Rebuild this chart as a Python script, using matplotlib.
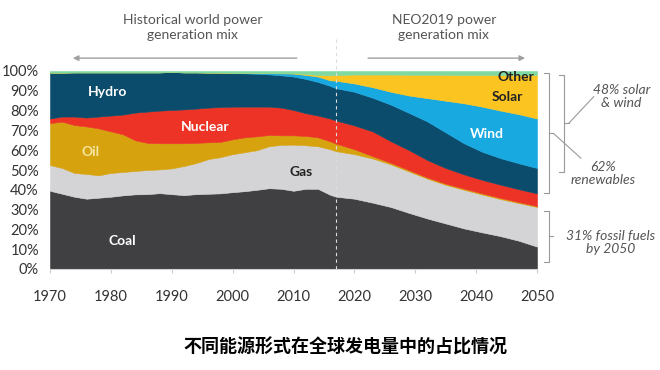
import numpy as np
import matplotlib.pyplot as plt

plt.rcParams['font.family'] = ['Lato', 'DejaVu Sans']

# share of world power generation (%)
years = [1970, 1972, 1974, 1976, 1978, 1980, 1982, 1984, 1986, 1988, 1990, 1992,
         1994, 1996, 1998, 2000, 2002, 2004, 2006, 2008, 2010, 2012, 2014, 2016,
         2017, 2020, 2023, 2026, 2029, 2032, 2035, 2038, 2041, 2044, 2047, 2050]
coal = [39.5, 38.0, 36.5, 35.5, 36.0, 36.5, 37.2, 37.7, 37.8, 38.3, 37.8, 37.3,
        37.8, 38.0, 38.2, 38.8, 39.3, 40.0, 40.8, 40.5, 39.5, 40.5, 40.5, 37.5,
        36.5, 35.5, 33.5, 31.3, 28.3, 25.5, 23.0, 20.5, 18.5, 16.6, 14.3, 11.3]
gas = [13.0, 13.0, 12.0, 12.5, 11.3, 12.0, 11.8, 11.8, 12.2, 12.0, 13.0, 14.7,
       15.7, 17.5, 18.3, 19.2, 19.7, 20.0, 21.2, 22.2, 23.3, 22.0, 21.5, 23.0,
       23.0, 22.5, 22.3, 21.5, 20.9, 20.1, 19.5, 19.5, 19.1, 18.7, 19.0, 20.0]
oil = [21.2, 23.4, 24.2, 24.0, 23.7, 21.0, 19.0, 15.5, 13.7, 13.2, 12.7, 11.5,
       10.2, 8.5, 7.7, 7.5, 7.5, 7.0, 5.7, 4.8, 4.7, 4.7, 4.5, 4.0,
       3.8, 2.5, 1.2, 0.8, 0.7, 0.6, 0.6, 0.6, 0.6, 0.6, 0.5, 0.5]
nuclear = [2.3, 2.6, 4.3, 4.5, 6.0, 8.0, 10.0, 14.0, 15.8, 16.5, 16.8, 17.1,
           17.3, 17.5, 17.6, 16.5, 15.5, 15.0, 14.3, 14.0, 12.8, 11.5, 11.0, 11.5,
           11.7, 12.0, 12.5, 10.9, 10.1, 8.8, 7.9, 7.2, 6.8, 6.7, 6.5, 6.4]
hydro = [23.2, 22.2, 22.3, 22.8, 22.3, 21.8, 21.3, 20.3, 19.8, 19.3, 19.2, 18.7,
         18.3, 17.7, 17.4, 16.9, 16.8, 16.6, 16.3, 16.3, 16.9, 17.3, 17.0, 16.5,
         16.3, 17.0, 17.0, 18.5, 18.8, 19.5, 18.0, 15.7, 14.2, 13.4, 13.1, 12.8]
wind = [0, 0, 0, 0, 0, 0, 0, 0, 0, 0, 0, 0,
        0, 0, 0, 0.1, 0.2, 0.4, 0.6, 1.0, 1.5, 2.0, 2.7, 2.8,
        3.8, 4.2, 5.3, 6.5, 8.8, 11.8, 16.0, 20.2, 22.8, 24.0, 24.8, 25.0]
solar = [0, 0, 0, 0, 0, 0, 0, 0, 0, 0, 0, 0,
         0, 0, 0, 0, 0, 0, 0.1, 0.1, 0.2, 0.5, 0.8, 2.5,
         2.9, 4.5, 6.4, 8.7, 10.5, 11.8, 13.1, 14.3, 16.0, 18.0, 19.8, 22.0]
other = [0.8, 0.8, 0.7, 0.7, 0.7, 0.7, 0.7, 0.7, 0.7, 0.7, 0.5, 0.7,
         0.7, 0.8, 0.8, 1.0, 1.0, 1.0, 1.0, 1.1, 1.1, 1.5, 2.0, 2.2,
         2.0, 1.8, 1.8, 1.8, 1.9, 1.9, 1.9, 2.0, 2.0, 2.0, 2.0, 2.0]

colors = ['#404042', '#d4d4d6', '#d6a30f', '#ec3326', '#0b4c6c',
          '#19a9e1', '#fcc420', '#7fd9a0']
xticks = [1970, 1980, 1990, 2000, 2010, 2020, 2030, 2040, 2050]

fig = plt.figure(figsize=(6.6, 3.7), dpi=100)
ax = fig.add_axes([50 / 660, 101 / 370, 487 / 660, 198 / 370])

polys = ax.stackplot(years, coal, gas, oil, nuclear, hydro, wind, solar, other,
                     colors=colors)
for p, c in zip(polys, colors):
    p.set_edgecolor(c)
    p.set_linewidth(0.4)

ax.set_xlim(1970, 2050)
ax.set_ylim(0, 100)
ax.set_xticks(xticks)
ax.set_yticks(range(0, 101, 10))
ax.set_yticklabels([f'{v}%' for v in range(0, 101, 10)])
ax.tick_params(axis='x', colors='#cccccc', labelcolor='#333333', length=3,
               pad=12, labelsize=10.5)
ax.tick_params(axis='y', length=0, pad=8, labelcolor='#333333', labelsize=10.5)
for s in ['top', 'right', 'left']:
    ax.spines[s].set_visible(False)
ax.spines['bottom'].set_color('#d0d0d0')

# today / forecast divider
ax.plot([2017, 2017], [0, 117], ls=(0, (3, 3)), lw=0.8, color='#dcdcdc',
        clip_on=False, zorder=5)

# labels inside the areas
lab = dict(ha='center', va='center', fontsize=10, fontweight='bold')
ax.text(1979.5, 89.4, 'Hydro', color='white', **lab)
ax.text(1995.5, 71.7, 'Nuclear', color='white', **lab)
ax.text(1976.7, 59.1, 'Oil', color='#f7e6a0', **lab)
ax.text(2011.3, 49, 'Gas', color='#222222', **lab)
ax.text(1981.8, 14.1, 'Coal', color='white', **lab)
ax.text(2046.6, 97, 'Other', color='#222222', **lab)
ax.text(2045.2, 86.9, 'Solar', color='#222222', **lab)
ax.text(2041.7, 68.2, 'Wind', color='white', **lab)

# headers with arrows
ax.text(1993.4, 122, 'Historical world power\ngeneration mix', ha='center',
        va='center', fontsize=10, color='#555555', linespacing=1.3)
ax.text(2034.7, 122, 'NEO2019 power\ngeneration mix', ha='center',
        va='center', fontsize=10, color='#555555', linespacing=1.3)
ax.annotate('', xy=(1973.3, 106.5), xytext=(2011, 106.5),
            arrowprops=dict(arrowstyle='-|>', color='#a0a0a0', lw=1,
                            mutation_scale=8), annotation_clip=False)
ax.annotate('', xy=(2048.5, 106.5), xytext=(2021.8, 106.5),
            arrowprops=dict(arrowstyle='-|>', color='#a0a0a0', lw=1,
                            mutation_scale=8), annotation_clip=False)

# brackets on the right
def bracket(x, y0, y1, w=0.8):
    ym = (y0 + y1) / 2
    ax.plot([x - w, x, x, x - w], [y0, y0, y1, y1], color='#999999', lw=0.8,
            clip_on=False)
    ax.plot([x, x + w], [ym, ym], color='#999999', lw=0.8, clip_on=False)
    return ym

m1 = bracket(2051.9, 98.8, 38.2)
m2 = bracket(2054.4, 98.0, 49.1)
bracket(2051.9, 29.5, 3.5)
ax.plot([2052.7, 2057.2], [m1, 56], color='#999999', lw=0.8, clip_on=False)
ax.plot([2055.2, 2059.3], [m2, 87], color='#999999', lw=0.8, clip_on=False)

note = dict(ha='center', va='center', fontsize=10, color='#555555',
            style='italic', linespacing=1.1)
ax.text(2063.9, 86.9, '48% solar\n& wind', **note)
ax.text(2060.8, 48.2, '62%\nrenewables', **note)
ax.text(2062.1, 13.6, '31% fossil fuels\nby 2050', **note)

fig.text(0.523, 0.062, '不同能源形式在全球发电量中的占比情况', ha='center',
         va='center', fontsize=13, fontweight='bold', color='black',
         family=['Noto Sans CJK SC', 'DejaVu Sans'])

fig.savefig('out.png', dpi=100)
